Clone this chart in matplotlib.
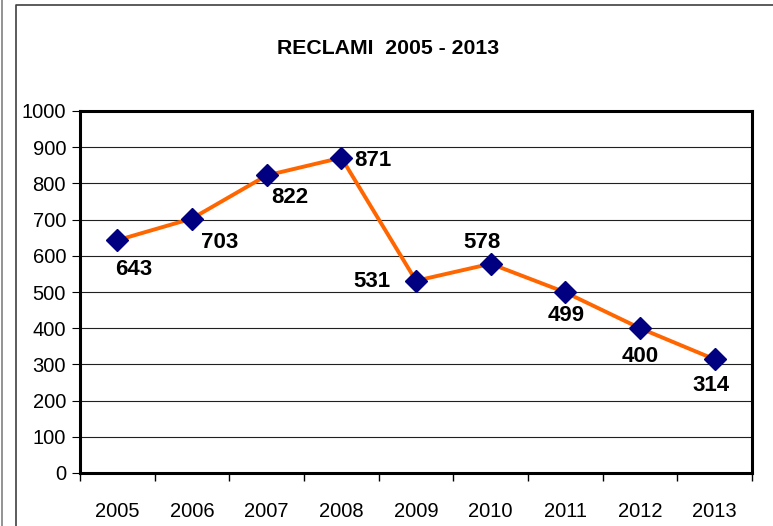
import numpy as np
import matplotlib.pyplot as plt
from matplotlib.lines import Line2D

plt.rcParams['font.family'] = ['Liberation Sans', 'DejaVu Sans']

# data
years = ['2005', '2006', '2007', '2008', '2009', '2010', '2011', '2012', '2013']
reclami = [643, 703, 822, 871, 531, 578, 499, 400, 314]
# label offsets in pixels (dx, dy) relative to each point
offsets = [(16, -29), (28, -24), (23, -22), (32, -3), (-44, -1), (-9, 21), (1, -23), (0, -28), (-4, -26)]

fig = plt.figure(figsize=(7.73, 5.26), dpi=100)
W, H = 773, 526

# outer borders
fig.add_artist(Line2D([2 / W, 2 / W], [0, 1], color='#808080', lw=1.2))
fig.add_artist(Line2D([16 / W, 16 / W, 1.0], [0, 1 - 5 / H, 1 - 5 / H], color='#404040', lw=1.2))

ax = fig.add_axes([80 / W, 1 - 473 / H, (752 - 80) / W, (473 - 111) / H])
x = np.arange(len(years))
ax.plot(x, reclami, color='#FF6600', lw=2.8, marker='D', ms=11.5,
        markerfacecolor='#000080', markeredgecolor='#000080', zorder=3)

for xi, v, (dx, dy) in zip(x, reclami, offsets):
    ax.annotate(str(v), (xi, v), xytext=(dx * 0.72, dy * 0.72), textcoords='offset points',
                ha='center', va='center', fontsize=16, fontweight='bold')

ax.set_xlim(-0.5, len(years) - 0.5)
ax.set_ylim(0, 1000)
ax.set_yticks(range(0, 1001, 100))
ax.yaxis.grid(True, color='#202020', lw=0.8)
ax.set_axisbelow(True)
ax.set_xticks(x)
ax.set_xticklabels(years)
ax.set_xticks(np.arange(-0.5, len(years), 1), minor=True)
ax.tick_params(axis='x', which='major', length=0, pad=21, labelsize=14.5)
ax.tick_params(axis='x', which='minor', length=6, direction='out', width=1)
ax.tick_params(axis='y', length=6, direction='out', labelsize=14.5, pad=4)
for s in ax.spines.values():
    s.set_linewidth(2.2)

fig.text(388 / W, 1 - 48 / H, 'RECLAMI  2005 - 2013', ha='center', va='center',
         fontsize=15.3, fontweight='bold')

fig.savefig('out.png', dpi=100)
